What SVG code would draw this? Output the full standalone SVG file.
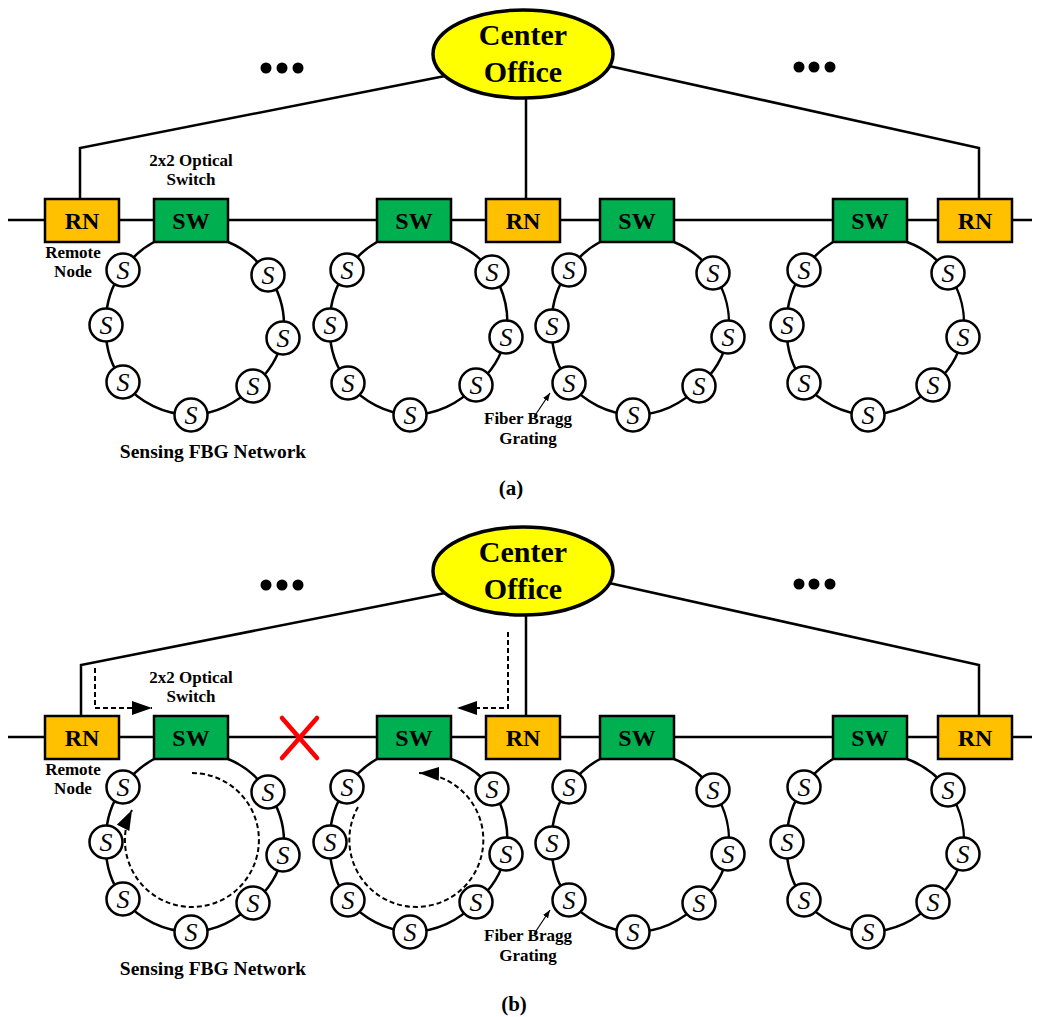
<svg xmlns="http://www.w3.org/2000/svg" width="1040" height="1017" viewBox="0 0 1040 1017">
<defs>
<style>
.ln{fill:none;stroke:#000;stroke-width:2.5}
.ring{fill:none;stroke:#000;stroke-width:2.5}
.dash{fill:none;stroke:#000;stroke-width:2;stroke-dasharray:5,3}
.rn rect{fill:#FFC000;stroke:#000;stroke-width:2.5}
.sw rect{fill:#00B050;stroke:#000;stroke-width:2.5}
.box text{font-family:'Liberation Serif',serif;font-weight:bold;font-size:24px;text-anchor:middle;fill:#000}
.co ellipse{fill:#FFFF00;stroke:#000;stroke-width:3.5}
.co text{font-family:'Liberation Serif',serif;font-weight:bold;font-size:30px;text-anchor:middle;fill:#000}
.s circle{fill:#fff;stroke:#000;stroke-width:2.5}
.s text{font-family:'Liberation Serif',serif;font-style:italic;font-size:26px;text-anchor:middle;fill:#000}
.lbl{font-family:'Liberation Serif',serif;font-weight:bold;font-size:17px;text-anchor:middle;fill:#000}
.big{font-family:'Liberation Serif',serif;font-weight:bold;font-size:19.5px;text-anchor:middle;fill:#000}
.cap{font-family:'Liberation Serif',serif;font-weight:bold;font-size:21px;text-anchor:middle;fill:#000}
.x{stroke:#FF0000;stroke-width:4.5;stroke-linecap:round}
</style>
<marker id="ah" markerUnits="userSpaceOnUse" markerWidth="20" markerHeight="14" viewBox="0 0 20 14" refX="20" refY="7" orient="auto"><path d="M0,0 L20,7 L0,14 z" fill="#000"/></marker>
<marker id="ahs" markerUnits="userSpaceOnUse" markerWidth="8" markerHeight="6" viewBox="0 0 8 6" refX="8" refY="3" orient="auto"><path d="M0,0 L8,3 L0,6 z" fill="#000"/></marker>
</defs>
<rect width="1040" height="1017" fill="#fff"/>

<!-- Panel (a) -->
<g id="panel-a">
<g id="connectors-a">
<path class="ln" d="M8,220 H1032"/>
<path class="ln" d="M80,199 V148 L445,76"/>
<path class="ln" d="M526,199 V95"/>
<path class="ln" d="M979,199 V148 L600,64"/>
<path class="ring" d="M154,242 A88,88 0 0 0 123,270 A88,88 0 0 0 106,325 A88,88 0 0 0 123,382 A88,88 0 0 0 191,415 A88,88 0 0 0 253,386 A88,88 0 0 0 283,338 A88,88 0 0 0 268,275 A88,88 0 0 0 228,242"/>
<path class="ring" d="M377,242 A88,88 0 0 0 347,270 A88,88 0 0 0 330,325 A88,88 0 0 0 348,383 A88,88 0 0 0 410,415 A88,88 0 0 0 476,385 A88,88 0 0 0 506,337 A88,88 0 0 0 492,272 A88,88 0 0 0 451,242"/>
<path class="ring" d="M600,242 A88,88 0 0 0 569,270 A88,88 0 0 0 552,326 A88,88 0 0 0 569,383 A88,88 0 0 0 633,415 A88,88 0 0 0 699,386 A88,88 0 0 0 728,337 A88,88 0 0 0 713,273 A88,88 0 0 0 674,242"/>
<path class="ring" d="M833,242 A88,88 0 0 0 804,270 A88,88 0 0 0 787,325 A88,88 0 0 0 804,383 A88,88 0 0 0 868,415 A88,88 0 0 0 933,385 A88,88 0 0 0 963,337 A88,88 0 0 0 948,273 A88,88 0 0 0 907,242"/>
<path d="M534,417 L550,393" stroke="#000" stroke-width="1.2" fill="none" marker-end="url(#ahs)"/>
</g>
<g id="a-co" class="co"><ellipse cx="523" cy="54" rx="90" ry="44"/><text x="523" y="45">Center</text><text x="523" y="82">Office</text></g>
<g id="a-rn1" class="box rn"><rect x="45" y="199" width="74" height="43"/><text x="82" y="228.5">RN</text></g>
<g id="a-rn2" class="box rn"><rect x="486" y="199" width="74" height="43"/><text x="523" y="228.5">RN</text></g>
<g id="a-rn3" class="box rn"><rect x="938" y="199" width="74" height="43"/><text x="975" y="228.5">RN</text></g>
<g id="a-sw1" class="box sw"><rect x="154" y="199" width="74" height="43"/><text x="191" y="228.5">SW</text></g>
<g id="a-sw2" class="box sw"><rect x="377" y="199" width="74" height="43"/><text x="414" y="228.5">SW</text></g>
<g id="a-sw3" class="box sw"><rect x="600" y="199" width="74" height="43"/><text x="637" y="228.5">SW</text></g>
<g id="a-sw4" class="box sw"><rect x="833" y="199" width="74" height="43"/><text x="870" y="228.5">SW</text></g>

<g id="a-r1-s1" class="s"><circle cx="123" cy="270" r="16.5"/><text x="123" y="279">S</text></g>
<g id="a-r1-s2" class="s"><circle cx="106" cy="325" r="16.5"/><text x="106" y="334">S</text></g>
<g id="a-r1-s3" class="s"><circle cx="123" cy="382" r="16.5"/><text x="123" y="391">S</text></g>
<g id="a-r1-s4" class="s"><circle cx="191" cy="415" r="16.5"/><text x="191" y="424">S</text></g>
<g id="a-r1-s5" class="s"><circle cx="253" cy="386" r="16.5"/><text x="253" y="395">S</text></g>
<g id="a-r1-s6" class="s"><circle cx="283" cy="338" r="16.5"/><text x="283" y="347">S</text></g>
<g id="a-r1-s7" class="s"><circle cx="268" cy="275" r="16.5"/><text x="268" y="284">S</text></g>

<g id="a-r2-s1" class="s"><circle cx="347" cy="270" r="16.5"/><text x="347" y="279">S</text></g>
<g id="a-r2-s2" class="s"><circle cx="330" cy="325" r="16.5"/><text x="330" y="334">S</text></g>
<g id="a-r2-s3" class="s"><circle cx="348" cy="383" r="16.5"/><text x="348" y="392">S</text></g>
<g id="a-r2-s4" class="s"><circle cx="410" cy="415" r="16.5"/><text x="410" y="424">S</text></g>
<g id="a-r2-s5" class="s"><circle cx="476" cy="385" r="16.5"/><text x="476" y="394">S</text></g>
<g id="a-r2-s6" class="s"><circle cx="506" cy="337" r="16.5"/><text x="506" y="346">S</text></g>
<g id="a-r2-s7" class="s"><circle cx="492" cy="272" r="16.5"/><text x="492" y="281">S</text></g>

<g id="a-r3-s1" class="s"><circle cx="569" cy="270" r="16.5"/><text x="569" y="279">S</text></g>
<g id="a-r3-s2" class="s"><circle cx="552" cy="326" r="16.5"/><text x="552" y="335">S</text></g>
<g id="a-r3-s3" class="s"><circle cx="569" cy="383" r="16.5"/><text x="569" y="392">S</text></g>
<g id="a-r3-s4" class="s"><circle cx="633" cy="415" r="16.5"/><text x="633" y="424">S</text></g>
<g id="a-r3-s5" class="s"><circle cx="699" cy="386" r="16.5"/><text x="699" y="395">S</text></g>
<g id="a-r3-s6" class="s"><circle cx="728" cy="337" r="16.5"/><text x="728" y="346">S</text></g>
<g id="a-r3-s7" class="s"><circle cx="713" cy="273" r="16.5"/><text x="713" y="282">S</text></g>

<g id="a-r4-s1" class="s"><circle cx="804" cy="270" r="16.5"/><text x="804" y="279">S</text></g>
<g id="a-r4-s2" class="s"><circle cx="787" cy="325" r="16.5"/><text x="787" y="334">S</text></g>
<g id="a-r4-s3" class="s"><circle cx="804" cy="383" r="16.5"/><text x="804" y="392">S</text></g>
<g id="a-r4-s4" class="s"><circle cx="868" cy="415" r="16.5"/><text x="868" y="424">S</text></g>
<g id="a-r4-s5" class="s"><circle cx="933" cy="385" r="16.5"/><text x="933" y="394">S</text></g>
<g id="a-r4-s6" class="s"><circle cx="963" cy="337" r="16.5"/><text x="963" y="346">S</text></g>
<g id="a-r4-s7" class="s"><circle cx="948" cy="273" r="16.5"/><text x="948" y="282">S</text></g>

<g id="a-dots">
<circle cx="266" cy="68" r="5.5"/><circle cx="282" cy="68" r="5.5"/><circle cx="298" cy="68" r="5.5"/>
<circle cx="799" cy="67" r="5.5"/><circle cx="814" cy="67" r="5.5"/><circle cx="830" cy="67" r="5.5"/>
</g>
<g id="a-labels">
<text class="lbl" x="191" y="166">2x2 Optical</text>
<text class="lbl" x="191" y="185">Switch</text>
<text class="lbl" x="73" y="258">Remote</text>
<text class="lbl" x="73" y="277">Node</text>
<text class="big" x="213" y="458">Sensing FBG Network</text>
<text class="lbl" x="528" y="424">Fiber Bragg</text>
<text class="lbl" x="528" y="444">Grating</text>
</g>
</g>
<text class="cap" x="511" y="495">(a)</text>

<!-- Panel (b) -->
<g id="panel-b" transform="translate(0,517)">
<g id="connectors-b">
<path class="ln" d="M8,220 H1032"/>
<path class="ln" d="M81,199 V148 L445,76"/>
<path class="ln" d="M526,199 V95"/>
<path class="ln" d="M979,199 V148 L600,64"/>
<path class="ring" d="M154,242 A88,88 0 0 0 123,270 A88,88 0 0 0 106,325 A88,88 0 0 0 123,382 A88,88 0 0 0 191,415 A88,88 0 0 0 253,386 A88,88 0 0 0 283,338 A88,88 0 0 0 268,275 A88,88 0 0 0 228,242"/>
<path class="ring" d="M377,242 A88,88 0 0 0 347,270 A88,88 0 0 0 330,325 A88,88 0 0 0 348,383 A88,88 0 0 0 410,415 A88,88 0 0 0 476,385 A88,88 0 0 0 506,337 A88,88 0 0 0 492,272 A88,88 0 0 0 451,242"/>
<path class="ring" d="M600,242 A88,88 0 0 0 569,270 A88,88 0 0 0 552,326 A88,88 0 0 0 569,383 A88,88 0 0 0 633,415 A88,88 0 0 0 699,386 A88,88 0 0 0 728,337 A88,88 0 0 0 713,273 A88,88 0 0 0 674,242"/>
<path class="ring" d="M833,242 A88,88 0 0 0 804,270 A88,88 0 0 0 787,325 A88,88 0 0 0 804,383 A88,88 0 0 0 868,415 A88,88 0 0 0 933,385 A88,88 0 0 0 963,337 A88,88 0 0 0 948,273 A88,88 0 0 0 907,242"/>
<path d="M534,417 L550,393" stroke="#000" stroke-width="1.2" fill="none" marker-end="url(#ahs)"/>
<path class="dash" d="M95,151 V191 H152" marker-end="url(#ah)"/>
<path class="dash" d="M508,115 V191 H457" marker-end="url(#ah)"/>
<path class="dash" d="M192,256 A67,67 0 1 1 132,293" marker-end="url(#ah)"/>
<path class="dash" d="M358,290 A67,67 0 1 0 419,256" marker-end="url(#ah)"/>
</g>
<g id="b-co" class="co"><ellipse cx="523" cy="54" rx="90" ry="44"/><text x="523" y="45">Center</text><text x="523" y="82">Office</text></g>
<g id="b-rn1" class="box rn"><rect x="45" y="199" width="74" height="43"/><text x="82" y="228.5">RN</text></g>
<g id="b-rn2" class="box rn"><rect x="486" y="199" width="74" height="43"/><text x="523" y="228.5">RN</text></g>
<g id="b-rn3" class="box rn"><rect x="938" y="199" width="74" height="43"/><text x="975" y="228.5">RN</text></g>
<g id="b-sw1" class="box sw"><rect x="154" y="199" width="74" height="43"/><text x="191" y="228.5">SW</text></g>
<g id="b-sw2" class="box sw"><rect x="377" y="199" width="74" height="43"/><text x="414" y="228.5">SW</text></g>
<g id="b-sw3" class="box sw"><rect x="600" y="199" width="74" height="43"/><text x="637" y="228.5">SW</text></g>
<g id="b-sw4" class="box sw"><rect x="833" y="199" width="74" height="43"/><text x="870" y="228.5">SW</text></g>

<g id="b-r1-s1" class="s"><circle cx="123" cy="270" r="16.5"/><text x="123" y="279">S</text></g>
<g id="b-r1-s2" class="s"><circle cx="106" cy="325" r="16.5"/><text x="106" y="334">S</text></g>
<g id="b-r1-s3" class="s"><circle cx="123" cy="382" r="16.5"/><text x="123" y="391">S</text></g>
<g id="b-r1-s4" class="s"><circle cx="191" cy="415" r="16.5"/><text x="191" y="424">S</text></g>
<g id="b-r1-s5" class="s"><circle cx="253" cy="386" r="16.5"/><text x="253" y="395">S</text></g>
<g id="b-r1-s6" class="s"><circle cx="283" cy="338" r="16.5"/><text x="283" y="347">S</text></g>
<g id="b-r1-s7" class="s"><circle cx="268" cy="275" r="16.5"/><text x="268" y="284">S</text></g>

<g id="b-r2-s1" class="s"><circle cx="347" cy="270" r="16.5"/><text x="347" y="279">S</text></g>
<g id="b-r2-s2" class="s"><circle cx="330" cy="325" r="16.5"/><text x="330" y="334">S</text></g>
<g id="b-r2-s3" class="s"><circle cx="348" cy="383" r="16.5"/><text x="348" y="392">S</text></g>
<g id="b-r2-s4" class="s"><circle cx="410" cy="415" r="16.5"/><text x="410" y="424">S</text></g>
<g id="b-r2-s5" class="s"><circle cx="476" cy="385" r="16.5"/><text x="476" y="394">S</text></g>
<g id="b-r2-s6" class="s"><circle cx="506" cy="337" r="16.5"/><text x="506" y="346">S</text></g>
<g id="b-r2-s7" class="s"><circle cx="492" cy="272" r="16.5"/><text x="492" y="281">S</text></g>

<g id="b-r3-s1" class="s"><circle cx="569" cy="270" r="16.5"/><text x="569" y="279">S</text></g>
<g id="b-r3-s2" class="s"><circle cx="552" cy="326" r="16.5"/><text x="552" y="335">S</text></g>
<g id="b-r3-s3" class="s"><circle cx="569" cy="383" r="16.5"/><text x="569" y="392">S</text></g>
<g id="b-r3-s4" class="s"><circle cx="633" cy="415" r="16.5"/><text x="633" y="424">S</text></g>
<g id="b-r3-s5" class="s"><circle cx="699" cy="386" r="16.5"/><text x="699" y="395">S</text></g>
<g id="b-r3-s6" class="s"><circle cx="728" cy="337" r="16.5"/><text x="728" y="346">S</text></g>
<g id="b-r3-s7" class="s"><circle cx="713" cy="273" r="16.5"/><text x="713" y="282">S</text></g>

<g id="b-r4-s1" class="s"><circle cx="804" cy="270" r="16.5"/><text x="804" y="279">S</text></g>
<g id="b-r4-s2" class="s"><circle cx="787" cy="325" r="16.5"/><text x="787" y="334">S</text></g>
<g id="b-r4-s3" class="s"><circle cx="804" cy="383" r="16.5"/><text x="804" y="392">S</text></g>
<g id="b-r4-s4" class="s"><circle cx="868" cy="415" r="16.5"/><text x="868" y="424">S</text></g>
<g id="b-r4-s5" class="s"><circle cx="933" cy="385" r="16.5"/><text x="933" y="394">S</text></g>
<g id="b-r4-s6" class="s"><circle cx="963" cy="337" r="16.5"/><text x="963" y="346">S</text></g>
<g id="b-r4-s7" class="s"><circle cx="948" cy="273" r="16.5"/><text x="948" y="282">S</text></g>

<g id="b-dots">
<circle cx="266" cy="68" r="5.5"/><circle cx="282" cy="68" r="5.5"/><circle cx="298" cy="68" r="5.5"/>
<circle cx="799" cy="67" r="5.5"/><circle cx="814" cy="67" r="5.5"/><circle cx="830" cy="67" r="5.5"/>
</g>
<g id="b-fault">
<line class="x" x1="282" y1="201" x2="317" y2="241"/>
<line class="x" x1="317" y1="201" x2="282" y2="241"/>
</g>
<g id="b-labels">
<text class="lbl" x="191" y="166">2x2 Optical</text>
<text class="lbl" x="191" y="185">Switch</text>
<text class="lbl" x="73" y="258">Remote</text>
<text class="lbl" x="73" y="277">Node</text>
<text class="big" x="213" y="458">Sensing FBG Network</text>
<text class="lbl" x="528" y="424">Fiber Bragg</text>
<text class="lbl" x="528" y="444">Grating</text>
</g>
</g>
<text class="cap" x="514" y="1011">(b)</text>
</svg>
